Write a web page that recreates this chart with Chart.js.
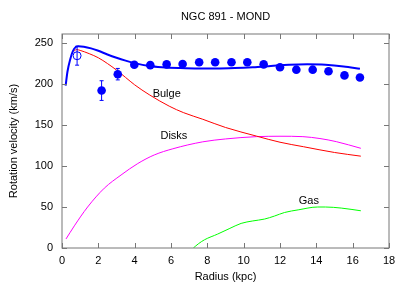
<!DOCTYPE html>
<html>
<head>
<meta charset="utf-8">
<script src="https://cdn.jsdelivr.net/npm/chart.js@4/dist/chart.umd.min.js"></script>
<style>
  body { margin: 0; background: #fff; }
</style>
</head>
<body>
<canvas id="grafico" width="407" height="285"></canvas>
<script>
// observed rotation curve
const obsR = [2.18, 3.07, 3.98, 4.86, 5.76, 6.64, 7.55, 8.43, 9.33, 10.2, 11.1, 12.0, 12.9, 13.8, 14.67, 15.55, 16.4];
const obsV = [192, 212, 223.5, 223, 224, 224.5, 226.5, 226.5, 226.5, 226.5, 224, 220.5, 217.5, 217.5, 215.5, 210.5, 208];
const obsErr = [12, 7, 2, 2, 2, 2, 2, 2, 2, 2, 2, 2, 2, 2, 2, 2, 2];

// open circle point (inner)
const innerR = [0.83];
const innerV = [234.5];
const innerErr = [11.5];

// MOND total
const totR = [0.2, 0.3, 0.45, 0.6, 0.75, 0.9, 1.2, 1.6, 2.0, 2.5, 3.0, 3.5, 4.0, 4.8, 5.5, 6.5, 7.5, 8.5, 9.5, 10.5, 11.5, 12.5, 13.5, 14.5, 15.5, 16.4];
const totV = [198, 215, 230, 240, 245, 246, 245.5, 243.5, 240.5, 236, 232, 228.5, 225.5, 222, 220.5, 219.5, 219, 219, 219.5, 220.5, 222, 223.5, 224, 223.5, 221.5, 218.5];

// Bulge
const bulR = [0.65, 0.8, 1.0, 1.5, 2.0, 2.5, 3.0, 3.5, 4.0, 4.8, 5.9, 6.7, 7.75, 9.0, 10.7, 12.0, 13.3, 15.0, 16.45];
const bulV = [240, 242, 241, 237, 232, 225, 217, 208, 199, 187, 173, 165, 157, 147, 136.5, 129, 123.5, 116.5, 112];

// Disks
const disR = [0.22, 0.68, 1.41, 2.33, 3.25, 4.17, 5.08, 6.1, 7.75, 9.0, 10.7, 12.0, 13.26, 14.2, 15.1, 16.45];
const disV = [11, 27, 50, 73, 89, 103, 113.5, 121, 129.5, 133, 135.8, 136.3, 135.8, 133.5, 129.7, 121.6];

// Gas
const gasR = [7.23, 7.5, 7.84, 8.57, 9.2, 9.86, 10.5, 11.15, 11.7, 12.25, 13.0, 14.08, 14.5, 15.37, 16.45];
const gasV = [0, 5, 10, 17, 23.5, 30, 33, 35.3, 39, 43.3, 46.5, 50, 50, 48.7, 45.4];

// curve labels
const labelText = ["Bulge", "Disks", "Gas"];
const labelR = [4.99, 5.42, 13.03];
const labelV = [188, 137, 57];

const xTicks = [0, 2, 4, 6, 8, 10, 12, 14, 16, 18];
const yTicks = [0, 50, 100, 150, 200, 250];

const FONT = "'Liberation Sans', Arial, sans-serif";
const pts = (xs, ys) => xs.map((x, i) => ({ x: x, y: ys[i] }));

const curva = (xs, ys, color, width) => ({
  data: pts(xs, ys),
  showLine: true,
  borderColor: color,
  borderWidth: width,
  pointRadius: 0,
  cubicInterpolationMode: "monotone",
  fill: false,
});

// error bars
const errorBars = {
  id: "errorBars",
  afterDatasetsDraw(chart) {
    const ctx = chart.ctx;
    const xs = chart.scales.x, ys = chart.scales.y;
    chart.data.datasets.forEach((ds) => {
      if (!ds.errors) return;
      ctx.save();
      ctx.strokeStyle = "#0000ff";
      ctx.lineWidth = 1;
      ds.data.forEach((p, i) => {
        const e = ds.errors[i];
        const px = xs.getPixelForValue(p.x);
        const y1 = ys.getPixelForValue(p.y - e);
        const y2 = ys.getPixelForValue(p.y + e);
        ctx.beginPath();
        ctx.moveTo(px, y1); ctx.lineTo(px, y2);
        ctx.moveTo(px - 2, y1); ctx.lineTo(px + 2, y1);
        ctx.moveTo(px - 2, y2); ctx.lineTo(px + 2, y2);
        ctx.stroke();
      });
      ctx.restore();
    });
  },
};

// frame, inward ticks, titles and curve labels
const marco = {
  id: "marco",
  afterDraw(chart) {
    const ctx = chart.ctx;
    const a = chart.chartArea;
    const xs = chart.scales.x, ys = chart.scales.y;
    ctx.save();
    ctx.strokeStyle = "#777";
    ctx.lineWidth = 1;
    ctx.strokeRect(a.left, a.top, a.right - a.left, a.bottom - a.top);
    ctx.beginPath();
    xTicks.forEach((v) => {
      const px = Math.round(xs.getPixelForValue(v)) + 0.5;
      ctx.moveTo(px, a.bottom); ctx.lineTo(px, a.bottom - 5);
      ctx.moveTo(px, a.top); ctx.lineTo(px, a.top + 5);
    });
    yTicks.forEach((v) => {
      const py = Math.round(ys.getPixelForValue(v)) + 0.5;
      ctx.moveTo(a.left, py); ctx.lineTo(a.left + 5, py);
      ctx.moveTo(a.right, py); ctx.lineTo(a.right - 5, py);
    });
    ctx.stroke();

    ctx.fillStyle = "#000";
    ctx.font = "11px " + FONT;
    ctx.textBaseline = "middle";
    ctx.textAlign = "center";
    const cx = (a.left + a.right) / 2;
    ctx.fillText("NGC 891 - MOND", cx, 17);
    ctx.fillText("Radius (kpc)", cx, 277);
    ctx.save();
    ctx.translate(14, (a.top + a.bottom) / 2);
    ctx.rotate(-Math.PI / 2);
    ctx.fillText("Rotation velocity (km/s)", 0, 0);
    ctx.restore();

    ctx.textAlign = "left";
    labelText.forEach((t, i) => {
      ctx.fillText(t, xs.getPixelForValue(labelR[i]), ys.getPixelForValue(labelV[i]));
    });
    ctx.restore();
  },
};

new Chart(document.getElementById("grafico").getContext("2d"), {
  type: "scatter",
  data: {
    datasets: [
      {
        data: pts(obsR, obsV),
        errors: obsErr,
        pointRadius: 4.3,
        pointBackgroundColor: "#0000ff",
        pointBorderColor: "#0000ff",
        pointBorderWidth: 0,
      },
      {
        data: pts(innerR, innerV),
        errors: innerErr,
        pointRadius: 4,
        pointBackgroundColor: "rgba(0,0,0,0)",
        pointBorderColor: "#0000ff",
        pointBorderWidth: 1,
      },
      curva(totR, totV, "#0000ff", 2),
      curva(bulR, bulV, "#ff0000", 1),
      curva(disR, disV, "#ff00ff", 1),
      curva(gasR, gasV, "#00ff00", 1),
    ],
  },
  options: {
    responsive: false,
    animation: false,
    layout: { padding: { top: 34, right: 18, left: 0, bottom: 0 } },
    plugins: { legend: { display: false }, tooltip: { enabled: false }, title: { display: false } },
    scales: {
      x: {
        type: "linear",
        min: 0,
        max: 18,
        afterFit: (s) => { s.height = 37; },
        afterBuildTicks: (s) => { s.ticks = xTicks.map((v) => ({ value: v })); },
        grid: { display: false, drawTicks: false },
        border: { display: false },
        ticks: { padding: 6, color: "#000", font: { family: FONT, size: 11 } },
      },
      y: {
        min: 0,
        max: 261,
        afterFit: (s) => { s.width = 62; },
        afterBuildTicks: (s) => { s.ticks = yTicks.map((v) => ({ value: v })); },
        grid: { display: false, drawTicks: false },
        border: { display: false },
        ticks: { padding: 9, color: "#000", font: { family: FONT, size: 11 } },
      },
    },
  },
  plugins: [errorBars, marco],
});
</script>
</body>
</html>
